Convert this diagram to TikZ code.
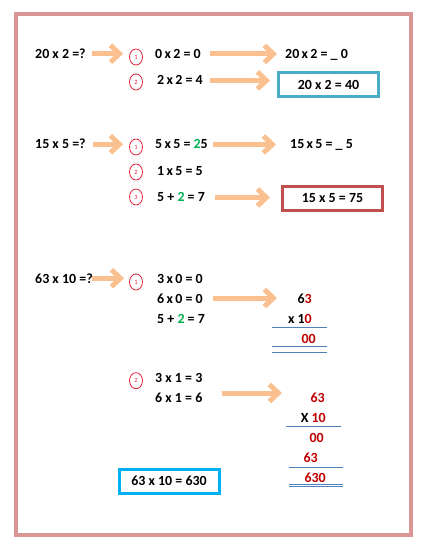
\documentclass[tikz,border=0pt]{standalone}
\usepackage{fontspec}
\setmainfont{Carlito}
\usetikzlibrary{arrows.meta, shapes.geometric}
\definecolor{framepink}{RGB}{217,150,148}
\definecolor{peach}{RGB}{250,192,143}
\definecolor{ringred}{RGB}{226,32,58}
\definecolor{boxblue}{RGB}{75,172,198}
\definecolor{boxred}{RGB}{192,80,77}
\definecolor{boxcyan}{RGB}{0,176,240}
\definecolor{digred}{RGB}{192,0,0}
\definecolor{diggreen}{RGB}{0,176,80}
\definecolor{ruleblue}{RGB}{79,129,189}
\newcommand{\redd}[1]{\textcolor{digred}{#1}}
\newcommand{\grn}[1]{\textcolor{diggreen}{#1}}
\tikzset{txt/.style={inner sep=0, anchor=base west, font=\fontsize{14}{16}\selectfont\bfseries}}
\tikzset{col/.style={txt, anchor=base east}}
\tikzset{ring/.style={ellipse, draw=ringred, line width=0.8bp, minimum width=13bp, minimum height=16bp, inner sep=0, text=ringred, font=\fontsize{6.5}{6.5}\selectfont}}
\tikzset{hint/.style={draw=peach, line width=5bp, -{Straight Barb[length=9bp, width=17bp]}}}
\tikzset{answer/.style={draw=#1, line width=3bp, minimum width=100bp, minimum height=24bp, inner sep=0, font=\fontsize{14}{16}\selectfont\bfseries}}
\tikzset{tally/.style={draw=ruleblue, line width=0.8bp}}

\begin{document}
\begin{tikzpicture}[x=1bp, y=-1bp]
  \useasboundingbox (0,0) rectangle (425,549);
  \draw[framepink, line width=4bp] (16,13.7) rectangle (411,534.7);

  % 20 x 2
  \node[txt] (q1) at (35,58.5) {20 x 2 =?};
  \node[ring] (m11) at (136,57) {1};
  \node[txt] (s11) at (155,58.5) {0\,x\,2 = 0};
  \node[txt] (r11) at (285,58.5) {20\,x\,2 = \_ 0};
  \node[ring] (m12) at (136,82) {2};
  \node[txt] (s12) at (157,85) {2\,x\,2 = 4};
  \node[answer=boxblue] (a1) at (328.5,84.5) {20 x 2 = 40};
  \draw[hint, shorten <=6bp, shorten >=6bp] (q1.east) -- (q1.east -| m11.west);
  \draw[hint, shorten <=9bp, shorten >=8bp] (s11.east) -- (s11.east -| r11.west);
  \draw[hint, shorten <=7bp, shorten >=7bp] (s12.east) -- (s12.east -| a1.west);

  % 15 x 5
  \node[txt] (q2) at (35,149) {15 x 5 =?};
  \node[ring] (m21) at (136,147) {1};
  \node[txt] (s21) at (155,149) {5\,x\,5 = \grn{2}5};
  \node[txt] (r21) at (290,149) {15\,x\,5 = \_ 5};
  \node[ring] (m22) at (136,172) {2};
  \node[txt] (s22) at (157,176) {1\,x\,5 = 5};
  \node[ring] (m23) at (136,197) {3};
  \node[txt] (s23) at (157,202) {5 + \grn{2} = 7};
  \node[answer=boxred] (a2) at (332.5,198.5) {15 x 5 = 75};
  \draw[hint, shorten <=7bp, shorten >=6bp] (q2.east) -- (q2.east -| m21.west);
  \draw[hint, shorten <=5bp, shorten >=14bp] (s21.east) -- (s21.east -| r21.west);
  \draw[hint, shorten <=10bp, shorten >=11bp] (s23.east) -- (s23.east -| a2.west);

  % 63 x 10
  \node[txt] (q3) at (35,283) {63 x 10 =?};
  \node[ring] (m31) at (136,282) {1};
  \node[txt] (s31) at (157,283) {3\,x\,0 = 0};
  \node[txt] (s32) at (157,303) {6\,x\,0 = 0};
  \node[txt] (s33) at (157,323) {5 + \grn{2} = 7};
  \node[col] (c31) at (312,303) {6\redd{3}};
  \node[col] (c32) at (312,323) {x 1\redd{0}};
  \node[col] (c33) at (316,343) {\redd{00}};
  \coordinate (t3) at (277,298);
  \draw[hint, shorten <=-1bp, shorten >=5bp] (q3.east) -- (q3.east -| m31.west);
  \draw[hint, shorten <=10bp] (s32.east |- t3) -- (t3);
  \draw[tally] (272,327.7) -- (327,327.7);
  \draw[tally] (272,346.7) -- (327,346.7);
  \draw[tally] (272,352) -- (327,352);

  \node[ring] (m41) at (136,380.7) {2};
  \node[txt] (s41) at (155,382) {3 x 1 = 3};
  \node[txt] (s42) at (155,402) {6 x 1 = 6};
  \node[col] (c41) at (325,402) {\redd{63}};
  \node[col] (c42) at (326,422) {X \redd{10}};
  \node[col] (c43) at (324,442) {\redd{00}};
  \node[col] (c44) at (318,462) {\redd{63}};
  \node[col] (c45) at (326,482) {\redd{630}};
  \coordinate (t4) at (282,393);
  \draw[hint, shorten <=19bp] (s42.east |- t4) -- (t4);
  \draw[tally] (286,426.7) -- (341,426.7);
  \draw[tally] (289,467.7) -- (343,467.7);
  \draw[tally] (289,484) -- (343,484);
  \draw[tally] (289,486) -- (343,486);
  \node[answer=boxcyan] (a3) at (169,481) {63 x 10 = 630};
\end{tikzpicture}
\end{document}
